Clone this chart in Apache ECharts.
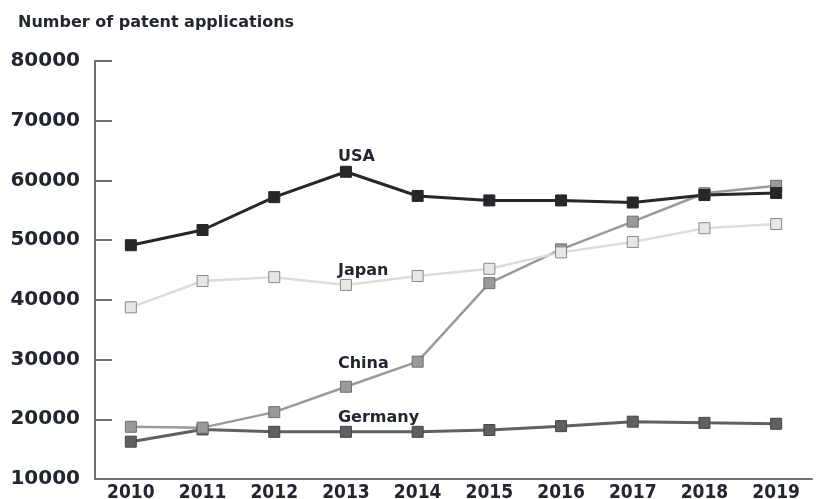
<!DOCTYPE html>
<html>
<head>
<meta charset="utf-8">
<script src="https://cdn.jsdelivr.net/npm/echarts@6/dist/echarts.min.js"></script>
<style>
  html, body { margin: 0; padding: 0; background: #fff; }
  #chart { width: 816px; height: 499px; }
</style>
</head>
<body>
<div id="chart"></div>
<script>
const years = ['2010', '2011', '2012', '2013', '2014', '2015', '2016', '2017', '2018', '2019'];
const usa = [49150, 51700, 57200, 61450, 57400, 56650, 56650, 56300, 57550, 57900];
const japan = [38750, 43150, 43800, 42500, 44000, 45200, 47950, 49700, 52000, 52700];
const china = [18750, 18600, 21200, 25450, 29650, 42800, 48450, 53100, 57850, 59100];
const germany = [16250, 18300, 17900, 17900, 17900, 18200, 18850, 19600, 19400, 19250];
const yTicks = [10000, 20000, 30000, 40000, 50000, 60000, 70000, 80000];

const textColor = '#222631';
const axisColor = '#707070';

// put the series name next to the 2013 point
function withLabel(values, name, offset) {
  return values.map((v, i) => {
    if (years[i] !== '2013') return v;
    return {
      value: v,
      label: {
        show: true,
        formatter: name,
        position: 'top',
        align: 'left',
        offset: offset,
        fontFamily: 'DejaVu Sans',
        fontWeight: 'bold',
        fontSize: 16,
        color: textColor,
      },
    };
  });
}

function makeSeries(name, values, lineColor, lineWidth, fill, border, offset) {
  return {
    name: name,
    type: 'line',
    data: withLabel(values, name, offset),
    symbol: 'rect',
    symbolSize: 11,
    lineStyle: { color: lineColor, width: lineWidth },
    itemStyle: { color: fill, borderColor: border, borderWidth: 1, opacity: 1 },
    label: { show: false },
    emphasis: { disabled: true },
    animation: false,
  };
}

const chart = echarts.init(document.getElementById('chart'));
chart.setOption({
  backgroundColor: '#fff',
  title: {
    text: 'Number of patent applications',
    left: 13,
    top: 10,
    textStyle: {
      fontFamily: 'DejaVu Sans',
      fontWeight: 'bold',
      fontSize: 16,
      color: textColor,
    },
  },
  grid: { left: 95, right: 4, top: 61, bottom: 20, outerBoundsMode: 'none' },
  xAxis: {
    type: 'category',
    data: years,
    boundaryGap: true,
    axisLine: { lineStyle: { color: axisColor, width: 2 } },
    axisTick: { inside: true, length: 10, lineStyle: { color: axisColor, width: 2 } },
    axisLabel: {
      margin: 5,
      fontFamily: 'DejaVu Sans Condensed',
      fontWeight: 'bold',
      fontSize: 19,
      color: textColor,
    },
    splitLine: { show: false },
  },
  yAxis: {
    type: 'value',
    min: yTicks[0],
    max: yTicks[yTicks.length - 1],
    interval: yTicks[1] - yTicks[0],
    axisLine: { show: true, lineStyle: { color: axisColor, width: 2 } },
    axisTick: { show: true, inside: true, length: 17, lineStyle: { color: axisColor, width: 2 } },
    axisLabel: {
      margin: 15,
      formatter: v => String(v),
      fontFamily: 'DejaVu Sans',
      fontWeight: 'bold',
      fontSize: 20,
      color: textColor,
    },
    splitLine: { show: false },
  },
  series: [
    makeSeries('Germany', germany, '#5f6064', 3, '#5f6064', '#444448', [-8, 5]),
    makeSeries('China', china, '#9a9a9a', 2.5, '#9a9a9a', '#6e6e6e', [-8, -4]),
    makeSeries('Japan', japan, '#dcdcdc', 2.5, '#e6e6e6', '#8a8a8a', [-8, 5]),
    makeSeries('USA', usa, '#26272b', 3, '#26272b', '#26272b', [-8, 4]),
  ],
});
</script>
</body>
</html>
